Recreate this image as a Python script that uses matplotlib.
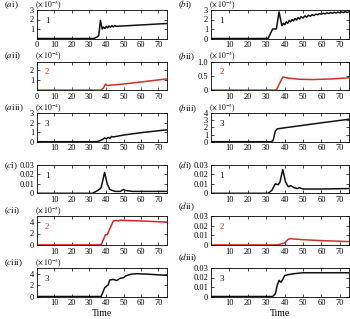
import matplotlib
matplotlib.use("Agg")
import matplotlib.pyplot as plt

plt.rcParams['font.family'] = ['Liberation Serif', 'DejaVu Serif']
plt.rcParams['mathtext.fontset'] = 'stix'
plt.rcParams['font.size'] = 6

BLACK = '#111111'
RED = '#cc3322'
RED2 = '#e0202a'

# ---- data (time, value in displayed units) ----
t_ai = [0, 33, 34, 35, 35.6, 36.6, 37.6, 38.4, 39.2, 40.0, 40.8, 41.6, 42.4, 43.2, 44.0, 44.8, 45.6, 75]
y_ai = [0, 0, 0.12, 0.2, 0.3, 1.9, 1.0, 1.2, 1.05, 1.28, 1.12, 1.32, 1.18, 1.35, 1.22, 1.36, 1.28, 1.58]

t_aii = [0, 37, 38.5, 39.5, 40.2, 50, 60, 75]
y_aii = [0, 0, 0.25, 0.6, 0.45, 0.6, 0.8, 1.1]

t_aiii = [0, 34, 36, 38, 39, 40, 41, 42, 43, 44, 50, 60, 75]
y_aiii = [0, 0, 0.08, 0.25, 0.4, 0.3, 0.45, 0.35, 0.55, 0.5, 0.7, 0.95, 1.25]

t_bi = [0, 31, 33.5, 35.5, 37, 38.5, 39.3, 40.1, 40.9, 41.7, 42.5, 43.3, 44.1, 44.9, 45.7,
        46.5, 47.3, 48.1, 49, 50, 51, 52, 53, 54, 55, 56, 57, 58, 59, 60, 61, 62, 63, 64,
        65, 66, 67, 68, 69, 70, 71, 72, 73, 74, 75]
y_bi = [0, 0, 1.0, 1.0, 2.8, 1.35, 1.6, 1.45, 1.75, 1.6, 1.9, 1.75, 2.0, 1.85, 2.1,
        1.95, 2.2, 2.05, 2.3, 2.15, 2.38, 2.25, 2.45, 2.35, 2.5, 2.42, 2.57, 2.5, 2.62, 2.55,
        2.66, 2.6, 2.7, 2.63, 2.73, 2.66, 2.76, 2.68, 2.78, 2.7, 2.8, 2.72, 2.82, 2.74, 2.8]

t_bii = [0, 35.5, 39, 42, 48, 55, 65, 75]
y_bii = [0, 0, 0.46, 0.42, 0.38, 0.37, 0.39, 0.43]

t_biii = [0, 32.5, 33.5, 34, 34.5, 35, 36, 40, 50, 60, 75]
y_biii = [0, 0, 0.1, 0.4, 1.0, 1.5, 1.8, 1.95, 2.3, 2.65, 3.15]

t_ci = [0, 32, 34, 36, 37, 39, 40.5, 42, 45, 48, 50, 51, 55, 75]
y_ci = [0, 0, 0.002, 0.004, 0.006, 0.022, 0.01, 0.004, 0.002, 0.002, 0.004, 0.003, 0.002, 0.002]

t_cii = [0, 37, 39.5, 40.5, 41.5, 44, 46, 47, 48, 50, 60, 75]
y_cii = [0, 0, 1.8, 1.8, 2.5, 4.2, 4.3, 4.2, 4.35, 4.3, 4.2, 4.0]

t_ciii = [0, 37, 39, 40, 41, 42, 44, 46, 47, 48, 50, 51, 52, 53, 55, 58, 65, 75]
y_ciii = [0, 0, 1.5, 1.8, 2.0, 2.9, 3.0, 2.8, 3.0, 3.2, 3.3, 3.6, 3.7, 3.8, 3.95, 4.0, 3.9, 3.7]

t_di = [0, 31, 33, 35, 36.5, 37.5, 39, 40.5, 42, 43.5, 45, 47, 48, 50, 60, 75]
y_di = [0, 0, 0.003, 0.01, 0.009, 0.012, 0.025, 0.012, 0.007, 0.008, 0.006, 0.005, 0.006, 0.0045, 0.0045, 0.005]

t_dii = [0, 36, 38, 40, 42, 43, 50, 60, 75]
y_dii = [0, 0, 0.001, 0.002, 0.006, 0.0065, 0.0055, 0.0045, 0.0035]

t_diii = [0, 33.5, 35, 36, 37, 38, 39, 40, 42, 45, 50, 75]
y_diii = [0, 0, 0.003, 0.012, 0.017, 0.015, 0.018, 0.022, 0.023, 0.024, 0.025, 0.025]

x_ticks = [10, 20, 30, 40, 50, 60, 70]

fig = plt.figure(figsize=(3.5, 3.19), dpi=100)
W, H = 350.0, 319.0
row_top = [10, 61.6, 113.2, 164.8, 216.4, 268]
ax_h = 28.5
cols = [(37, 130), (211, 138)]


def draw_panel(col, row, t, y, color, ylim, yticks, yticklabels, letter, roman, scale, num,
               zero_corner=False, label_low=False):
    x0, w = cols[col]
    top = row_top[row]
    ax = fig.add_axes([x0 / W, 1 - (top + ax_h) / H, w / W, ax_h / H])
    ax.plot(t, y, color=color, lw=1.1)
    ax.set_xlim(0, 75)
    ax.set_ylim(*ylim)
    if zero_corner:
        ax.set_xticks([0] + x_ticks)
    else:
        ax.set_xticks(x_ticks)
    ax.set_yticks(yticks)
    ax.set_yticklabels(yticklabels)
    ax.tick_params(direction='in', length=2, width=0.5, top=True, right=True, pad=2,
                   labelsize=6)
    for s in ax.spines.values():
        s.set_linewidth(0.6)
    ax.text(0.06, 0.62, num, transform=ax.transAxes, fontsize=6.5,
            color=RED if num == '2' else BLACK, va='center')
    lx = 4 if col == 0 else 178
    if label_low:
        ly = top + 1
    elif scale is None:
        ly = top - 10
    else:
        ly = top - 5
    fig.text(lx / W, 1 - ly / H, '($' + letter + '$' + roman + ')', fontsize=6.5, va='center')
    if scale:
        fig.text((x0 - 2) / W, 1 - (top - 5) / H, r'($\times\,10^{' + scale + '}$)',
                 fontsize=5.5, va='center')
    return ax


draw_panel(0, 0, t_ai, y_ai, BLACK, (0, 3), [1, 2, 3], ['1', '2', '3'], 'a', 'i', '-3', '1',
           zero_corner=True)
draw_panel(0, 1, t_aii, y_aii, RED, (0, 2.8), [1, 2], ['1', '2'], 'a', 'ii', '-4', '2',
           zero_corner=True)
draw_panel(0, 2, t_aiii, y_aiii, BLACK, (0, 3), [0, 1, 2, 3], ['0', '1', '2', '3'], 'a', 'iii',
           '-4', '3')
draw_panel(0, 3, t_ci, y_ci, BLACK, (0, 0.03), [0, 0.01, 0.02, 0.03],
           ['0', '0.01', '0.02', '0.03'], 'c', 'i', None, '1', label_low=True)
draw_panel(0, 4, t_cii, y_cii, RED2, (0, 5), [0, 2, 4], ['0', '2', '4'], 'c', 'ii', '-3', '2')
ax_ciii = draw_panel(0, 5, t_ciii, y_ciii, BLACK, (0, 5), [0, 2, 4], ['0', '2', '4'], 'c', 'iii',
                     '-3', '3')
ax_ciii.set_xlabel('Time', fontsize=7, labelpad=1)

draw_panel(1, 0, t_bi, y_bi, BLACK, (0, 3), [0, 1, 2, 3], ['0', '1', '2', '3'], 'b', 'i', '-3', '1')
draw_panel(1, 1, t_bii, y_bii, RED, (0, 1.0), [0, 0.5, 1.0], ['0', '0.5', '1.0'], 'b', 'ii',
           '-3', '2')
draw_panel(1, 2, t_biii, y_biii, BLACK, (0, 4), [0, 1, 2, 3, 4], ['0', '1', '2', '3', '4'],
           'b', 'iii', '-3', '3')
draw_panel(1, 3, t_di, y_di, BLACK, (0, 0.03), [0, 0.01, 0.02, 0.03],
           ['0', '0.01', '0.02', '0.03'], 'd', 'i', None, '1', label_low=True)
draw_panel(1, 4, t_dii, y_dii, RED, (0, 0.03), [0, 0.01, 0.02, 0.03],
           ['0', '0.01', '0.02', '0.03'], 'd', 'ii', None, '2')
ax_diii = draw_panel(1, 5, t_diii, y_diii, BLACK, (0, 0.03), [0, 0.01, 0.02, 0.03],
                     ['0', '0.01', '0.02', '0.03'], 'd', 'iii', None, '3')
ax_diii.set_xlabel('Time', fontsize=7, labelpad=1)

fig.savefig('out.png', dpi=100)
